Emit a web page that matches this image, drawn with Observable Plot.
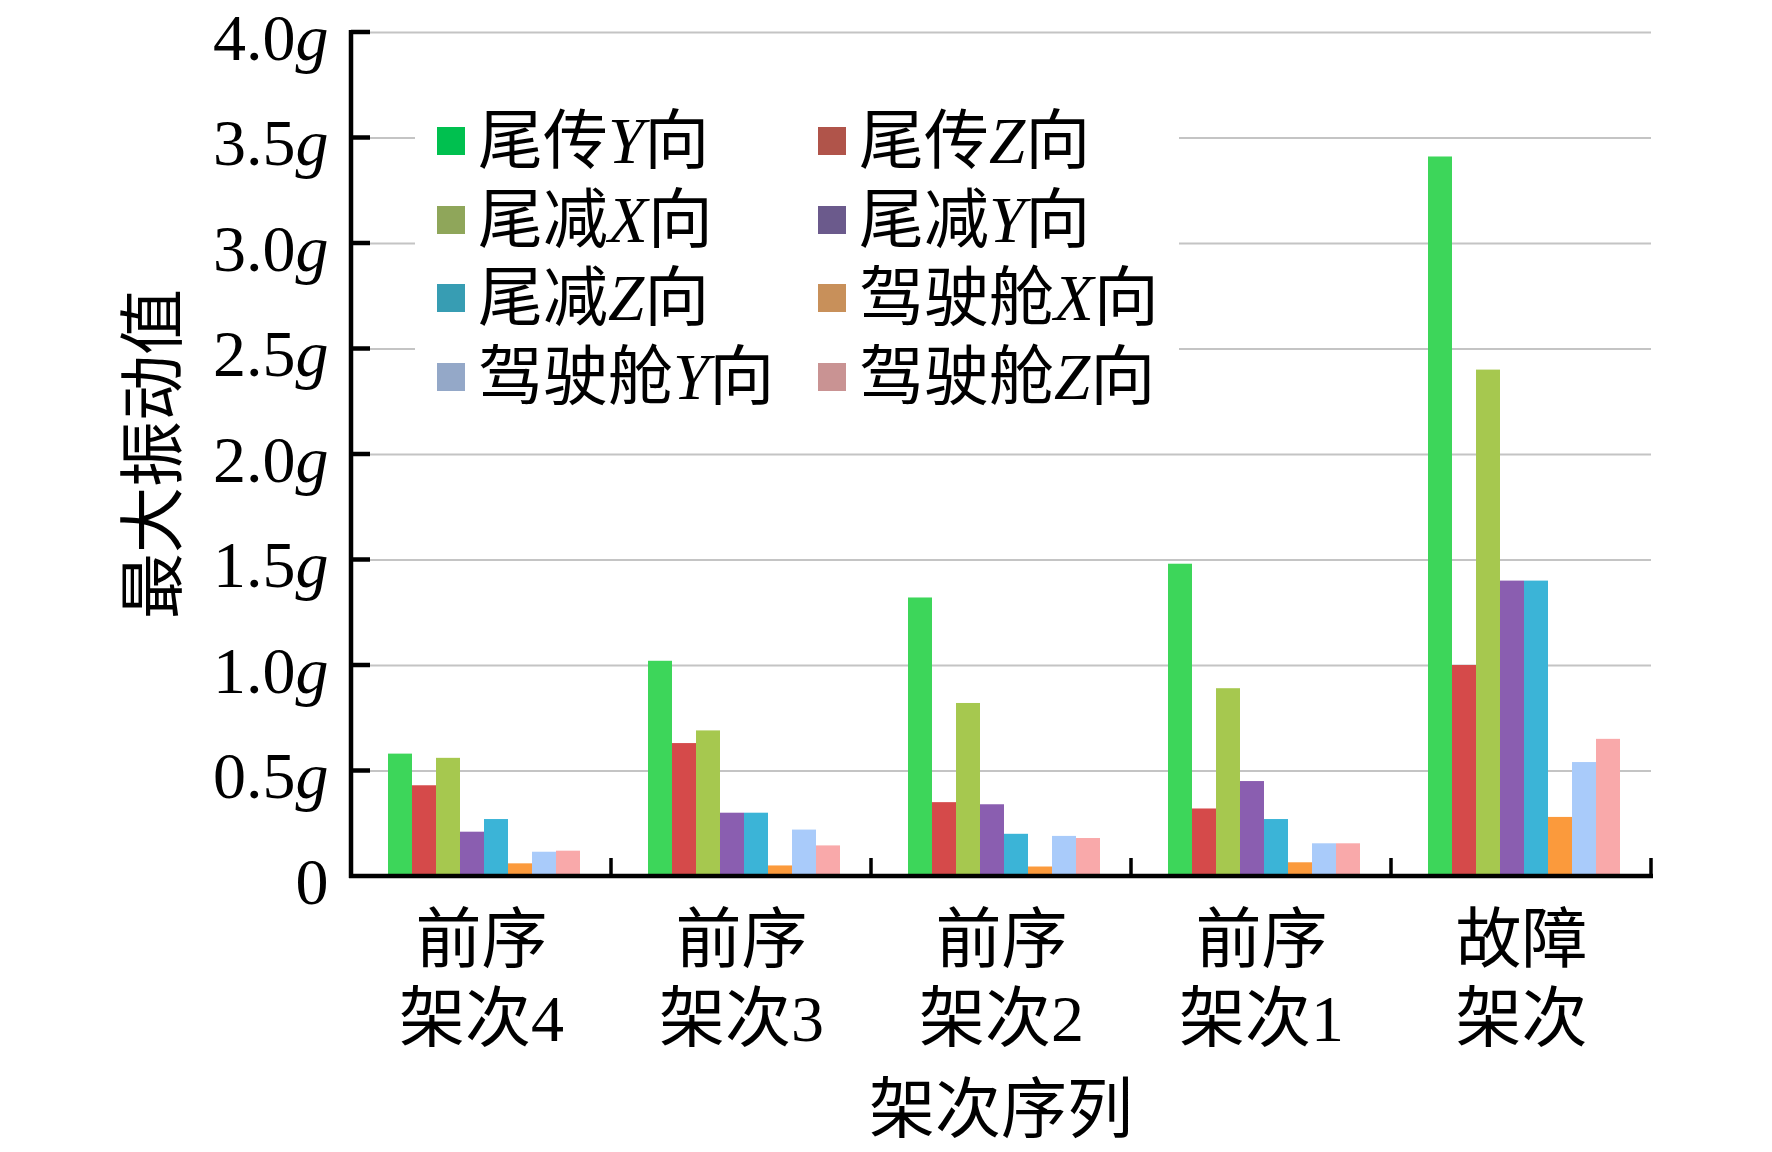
<!DOCTYPE html>
<html><head><meta charset="utf-8">
<script src="https://cdn.jsdelivr.net/npm/d3@7"></script>
<script src="https://cdn.jsdelivr.net/npm/@observablehq/plot@0.6"></script>
<style>
body{margin:0;background:#fff;}
#wrap{position:relative;width:1772px;height:1152px;overflow:hidden;background:#fff;}
#legend{position:absolute;left:415px;top:100px;width:764px;height:330px;background:#fff;}
.item{position:absolute;height:70px;display:flex;align-items:center;font-family:"Liberation Serif","Noto Sans CJK SC";font-size:65px;color:#000;white-space:nowrap;line-height:1;}
.item i{font-style:italic;}
.sw{width:28px;height:28px;margin-right:13px;flex:none;}
</style></head><body>
<div id="wrap"><div id="chart"></div><div id="legend"></div></div>
<script>
// ---- data ----
const categories = ["前序\n架次4", "前序\n架次3", "前序\n架次2", "前序\n架次1", "故障\n架次"];
const seriesNames = ["尾传Y向", "尾传Z向", "尾减X向", "尾减Y向", "尾减Z向", "驾驶舱X向", "驾驶舱Y向", "驾驶舱Z向"];
const tailTransY  = [0.58, 1.02, 1.32, 1.48, 3.41];
const tailTransZ  = [0.43, 0.63, 0.35, 0.32, 1.00];
const tailRedX    = [0.56, 0.69, 0.82, 0.89, 2.40];
const tailRedY    = [0.21, 0.30, 0.34, 0.45, 1.40];
const tailRedZ    = [0.27, 0.30, 0.20, 0.27, 1.40];
const cockpitX    = [0.06, 0.05, 0.045, 0.065, 0.28];
const cockpitY    = [0.115, 0.22, 0.19, 0.155, 0.54];
const cockpitZ    = [0.12, 0.145, 0.18, 0.155, 0.65];
const yTicks = [0, 0.5, 1.0, 1.5, 2.0, 2.5, 3.0, 3.5, 4.0];
const yTitle = "最大振动值";
const xTitle = "架次序列";

// ---- styles ----
const barColors    = ["#3dd65a", "#d54a4a", "#a6c84f", "#8a5eb0", "#3bb4d7", "#fb9a3c", "#a9cbfa", "#f9a9aa"];
const legendColors = ["#00c04f", "#b0544a", "#8fa65a", "#6b5a8c", "#379db3", "#c8905a", "#94a8c8", "#c99393"];
const serif = "'Liberation Serif', 'Noto Sans CJK SC', serif";

const seriesValues = [tailTransY, tailTransZ, tailRedX, tailRedY, tailRedZ, cockpitX, cockpitY, cockpitZ];
const rows = [];
seriesNames.forEach((s, j) => categories.forEach((c, i) => rows.push({cat: c, series: s, value: seriesValues[j][i]})));

const chart = Plot.plot({
  width: 1772,
  height: 1152,
  marginLeft: 350,
  marginRight: 120,
  marginTop: 32,
  marginBottom: 276,
  style: {background: "#fff", overflow: "visible"},
  fx: {domain: categories, padding: 0, axis: null},
  x: {domain: seriesNames, paddingInner: 0, paddingOuter: 1.36, align: 0.55, axis: null},
  y: {domain: [0, 4], axis: null},
  color: {domain: seriesNames, range: barColors},
  marks: [
    Plot.gridY(yTicks.filter(t => t > 0), {stroke: "#c4c4c4", strokeOpacity: 1, strokeWidth: 2}),
    Plot.barY(rows, {fx: "cat", x: "series", y: "value", fill: "series"}),
    Plot.axisY(yTicks, {anchor: "left", tickSize: 0, tickPadding: 23, fontSize: 66, fontFamily: "'Liberation Serif', serif",
      dy: 6, tickFormat: d => d === 0 ? "0" : d.toFixed(1) + "g", label: null}),
    Plot.text(categories, {fx: d => d, text: d => d, frameAnchor: "bottom", dy: 100, lineAnchor: "middle",
      lineHeight: 1.2, fontSize: 66, fontFamily: serif, fill: "#000"})
  ]
});
document.getElementById("chart").appendChild(chart);

// italic g in y tick labels
chart.querySelectorAll('[aria-label="y-axis tick label"] text').forEach(t => {
  const s = t.textContent;
  if (s.endsWith("g")) {
    t.textContent = s.slice(0, -1);
    const ts = document.createElementNS("http://www.w3.org/2000/svg", "tspan");
    ts.setAttribute("font-style", "italic");
    ts.textContent = "g";
    t.appendChild(ts);
  }
});

// axis lines, inward ticks, category boundaries and titles, placed with the chart's own scales
(function () {
  const ys = chart.scale("y"), fxs = chart.scale("fx");
  const y = v => ys.apply(v);
  const y0 = y(0), yTop = y(yTicks[yTicks.length - 1]);
  const edges = categories.map(c => fxs.apply(c));
  edges.push(edges[edges.length - 1] + fxs.bandwidth);
  const ml = edges[0], right = edges[edges.length - 1];
  const g = d3.select(chart).append("g");
  const lines = g.append("g").attr("stroke", "#000").attr("fill", "none");
  lines.append("line").attr("x1", ml).attr("x2", ml).attr("y1", yTop - 2).attr("y2", y0 + 2).attr("stroke-width", 4.5);
  yTicks.filter(t => t > 0).forEach(t => {
    lines.append("line").attr("x1", ml).attr("x2", ml + 19).attr("y1", y(t)).attr("y2", y(t)).attr("stroke-width", 4.5);
  });
  lines.append("line").attr("x1", ml - 2).attr("x2", right + 2).attr("y1", y0).attr("y2", y0).attr("stroke-width", 4.5);
  edges.slice(1).forEach(x => {
    lines.append("line").attr("x1", x).attr("x2", x).attr("y1", y0).attr("y2", y0 - 18).attr("stroke-width", 3.5);
  });
  g.append("text").attr("x", (ml + right) / 2).attr("y", y0 + 233).attr("dy", "0.35em")
    .attr("text-anchor", "middle").attr("font-family", serif).attr("font-size", 66).text(xTitle);
  g.append("text").attr("transform", `translate(153,${(yTop + y0) / 2}) rotate(-90)`).attr("dy", "0.35em")
    .attr("text-anchor", "middle").attr("font-family", serif).attr("font-size", 66).text(yTitle);
})();

// legend
const legend = document.getElementById("legend");
seriesNames.forEach((name, j) => {
  const col = j % 2, row = Math.floor(j / 2);
  const item = document.createElement("div");
  item.className = "item";
  item.style.left = (col === 0 ? 22 : 403) + "px";
  item.style.top = ([41, 120, 198, 277][row] - 35) + "px";
  const sw = document.createElement("span");
  sw.className = "sw";
  sw.style.background = legendColors[j];
  item.appendChild(sw);
  const label = document.createElement("span");
  name.split(/([XYZ])/).forEach(part => {
    if (!part) return;
    if (/^[XYZ]$/.test(part)) { const i = document.createElement("i"); i.textContent = part; label.appendChild(i); }
    else label.appendChild(document.createTextNode(part));
  });
  item.appendChild(label);
  legend.appendChild(item);
});
</script>
</body></html>
